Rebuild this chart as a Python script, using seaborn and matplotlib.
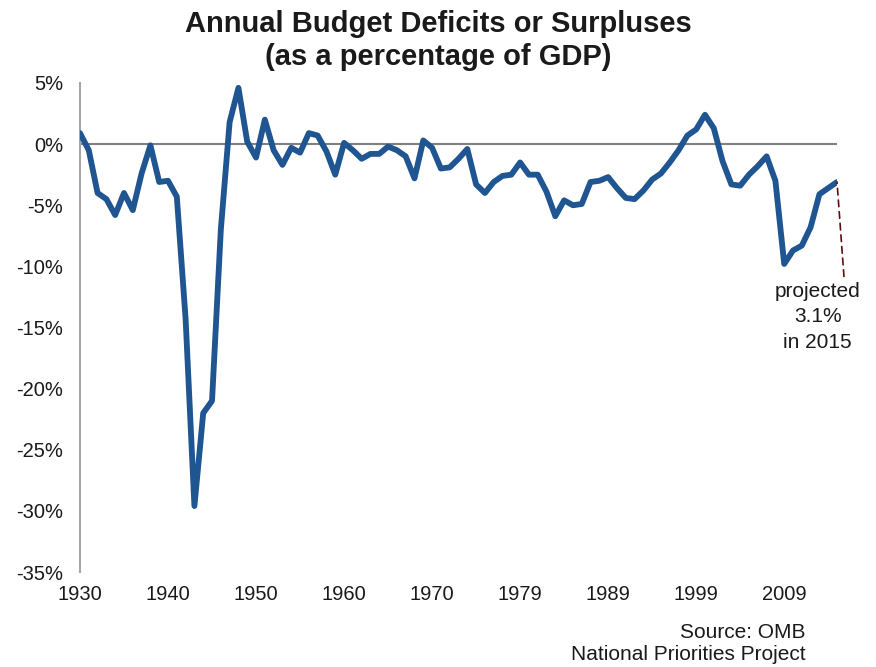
import numpy as np
import pandas as pd
import matplotlib
matplotlib.use("Agg")
import matplotlib.pyplot as plt
import seaborn as sns

# fiscal years, with the 1976 transition quarter as its own point
years = [str(y) for y in range(1930, 1977)] + ["TQ"] + [str(y) for y in range(1977, 2016)]

# surplus (+) / deficit (-) as % of GDP
pct_gdp = [
    0.9, -0.5, -4.0, -4.5, -5.8, -4.0, -5.4, -2.4, -0.1, -3.1,      # 1930s
    -3.0, -4.3, -14.3, -29.6, -22.0, -21.0, -7.0, 1.8, 4.6, 0.2,    # 1940s
    -1.1, 2.0, -0.5, -1.7, -0.3, -0.7, 0.9, 0.7, -0.6, -2.5,        # 1950s
    0.1, -0.5, -1.2, -0.8, -0.8, -0.2, -0.5, -1.0, -2.8, 0.3,       # 1960s
    -0.3, -2.0, -1.9, -1.2, -0.4, -3.3, -4.0,                       # 1970-76
    -3.1,                                                            # TQ
    -2.6, -2.5, -1.5,                                                # 1977-79
    -2.5, -2.5, -3.9, -5.9, -4.6, -5.0, -4.9, -3.1, -3.0, -2.7,     # 1980s
    -3.6, -4.4, -4.5, -3.8, -2.9, -2.4, -1.5, -0.5, 0.7, 1.2,       # 1990s
    2.4, 1.3, -1.4, -3.3, -3.4, -2.5, -1.8, -1.0, -3.0, -9.8,       # 2000s
    -8.7, -8.3, -6.8, -4.1, -3.6, -3.1,                              # 2010-15
]

tick_pos = list(range(0, 81, 10))
y_ticks = [5, 0, -5, -10, -15, -20, -25, -30, -35]

df = pd.DataFrame({"pos": range(len(years)), "year": years, "pct": pct_gdp})

sns.set_style("white")
plt.rcParams["font.family"] = ["Liberation Sans", "DejaVu Sans"]

fig = plt.figure(figsize=(8.76, 6.67), dpi=100)
ax = fig.add_axes([0.0913, 0.1424, 0.8642, 0.7332])

ax.axhline(0, color="#808080", lw=1.5, zorder=1)
sns.lineplot(data=df, x="pos", y="pct", color="#1f5591", lw=4.2, ax=ax, zorder=3)

ax.set_xlim(0, len(years) - 1)
ax.set_ylim(-35, 5)
ax.set_xticks(tick_pos)
ax.set_xticklabels([years[i] for i in tick_pos])
ax.set_yticks(y_ticks)
ax.set_yticklabels([f"{v}%" for v in y_ticks])
ax.tick_params(axis="both", length=0, labelsize=14.5, colors="#1a1a1a")
ax.tick_params(axis="y", pad=12)
ax.tick_params(axis="x", pad=9)
ax.set_xlabel("")
ax.set_ylabel("")

for s in ["top", "right", "bottom"]:
    ax.spines[s].set_visible(False)
ax.spines["left"].set_color("#a6a6a6")
ax.spines["left"].set_linewidth(1.5)

# leader line + projection note
last = len(years) - 1
ax.annotate("", xy=(last, pct_gdp[-1]), xytext=(5, -68), textcoords="offset points",
            arrowprops=dict(arrowstyle="-", color="#5a0f0f", lw=1.2, linestyle=(0, (4, 3)),
                            shrinkA=0, shrinkB=0))
ax.annotate("projected\n3.1%\nin 2015", xy=(last, pct_gdp[-1]), xytext=(-14, -72),
            textcoords="offset points", ha="center", va="top", fontsize=15,
            color="#1a1a1a", linespacing=1.42)

fig.suptitle("Annual Budget Deficits or Surpluses\n(as a percentage of GDP)",
             x=0.5, y=0.985, fontsize=21, fontweight="bold", color="#1a1a1a",
             linespacing=1.22)

fig.text(0.92, 0.004, "Source: OMB\nNational Priorities Project", ha="right", va="bottom",
         fontsize=15, color="#1a1a1a", linespacing=1.22)

fig.savefig("out.png", dpi=100)
